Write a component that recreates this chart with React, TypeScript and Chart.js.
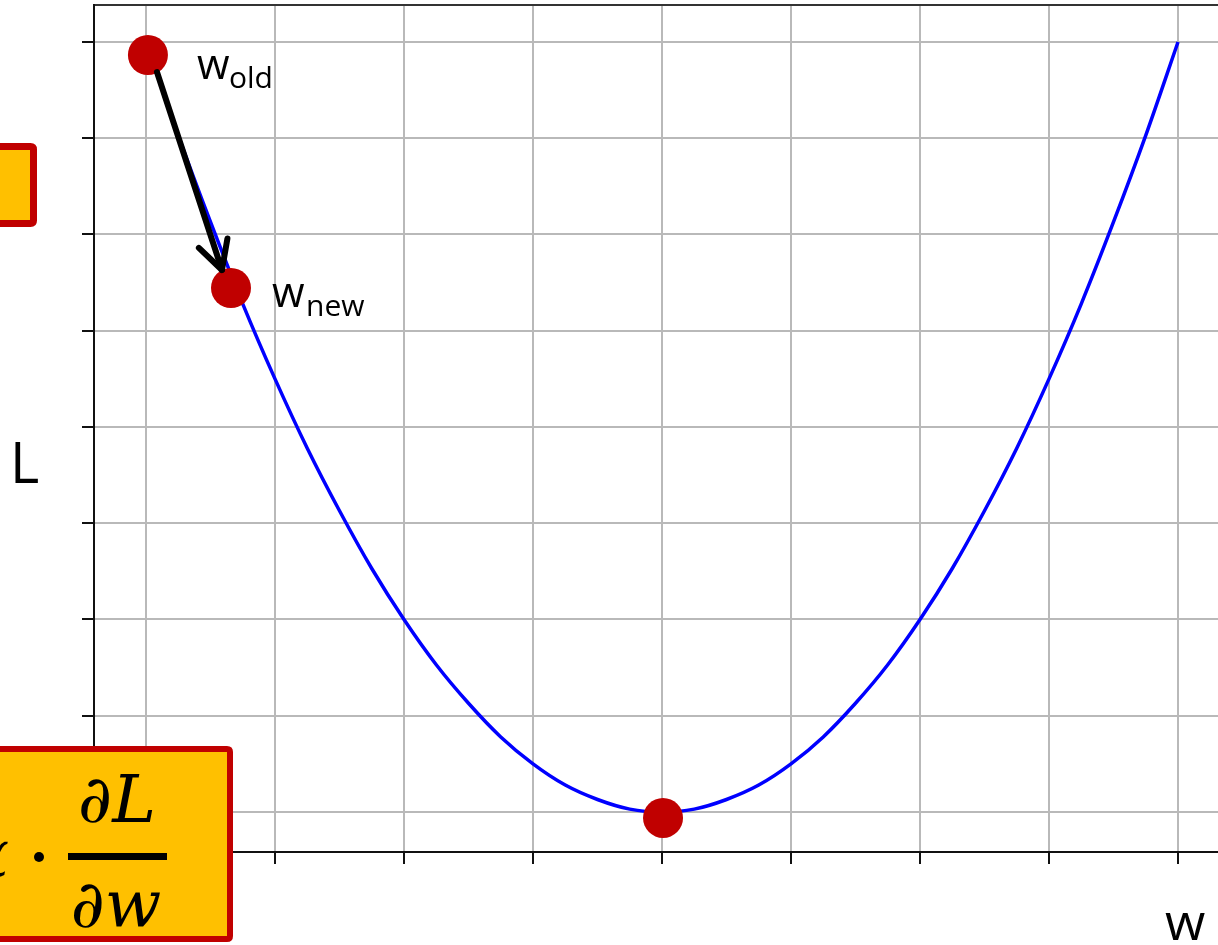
import React, { useEffect, useRef } from "react";
import { Chart, registerables } from "chart.js";

Chart.register(...registerables);

const curveW = [-4, -3.75, -3.5, -3.25, -3, -2.75, -2.5, -2.25, -2, -1.75, -1.5, -1.25, -1, -0.75, -0.5, -0.25, 0,
  0.25, 0.5, 0.75, 1, 1.25, 1.5, 1.75, 2, 2.25, 2.5, 2.75, 3, 3.25, 3.5, 3.75, 4];
const curveL = [8, 7.03, 6.13, 5.28, 4.5, 3.78, 3.13, 2.53, 2, 1.53, 1.13, 0.78, 0.5, 0.28, 0.13, 0.03, 0,
  0.03, 0.13, 0.28, 0.5, 0.78, 1.13, 1.53, 2, 2.53, 3.13, 3.78, 4.5, 5.28, 6.13, 7.03, 8];

// Red points: w_old, w_new, minimum
const pointNames = ["w_old", "w_new", "min"];
const pointW = [-3.985, -3.341, 0.008];
const pointL = [7.865, 5.444, -0.062];

// Arrow from w_old to w_new
const arrowW = [-3.915, -3.411];
const arrowL = [7.688, 5.631];

// Axis ranges and tick values
const xMin = -4.403;
const xMax = 4.31;
const yMin = -0.4156;
const yMax = 8.3844;
const xTicks = [-4, -3, -2, -1, 0, 1, 2, 3, 4];
const yTicks = [0, 1, 2, 3, 4, 5, 6, 7, 8];

const axisTitleX = "w";
const axisTitleY = "L";

const ORANGE = "#FFC000";
const DARKRED = "#C00000";

function roundRect(ctx: CanvasRenderingContext2D, x: number, y: number, w: number, h: number, r: number) {
  ctx.beginPath();
  ctx.moveTo(x + r, y);
  ctx.lineTo(x + w - r, y);
  ctx.quadraticCurveTo(x + w, y, x + w, y + r);
  ctx.lineTo(x + w, y + h - r);
  ctx.quadraticCurveTo(x + w, y + h, x + w - r, y + h);
  ctx.lineTo(x + r, y + h);
  ctx.quadraticCurveTo(x, y + h, x, y + h - r);
  ctx.lineTo(x, y + r);
  ctx.quadraticCurveTo(x, y, x + r, y);
  ctx.closePath();
}

const overlayPlugin = {
  id: "overlay",
  afterDatasetsDraw(chart: any) {
    const ctx: CanvasRenderingContext2D = chart.ctx;
    const xs = chart.scales.x;
    const ys = chart.scales.y;
    const x1 = xs.getPixelForValue(arrowW[0]);
    const y1 = ys.getPixelForValue(arrowL[0]);
    const x2 = xs.getPixelForValue(arrowW[1]);
    const y2 = ys.getPixelForValue(arrowL[1]);
    ctx.save();
    ctx.strokeStyle = "#000";
    ctx.lineWidth = 6;
    ctx.lineCap = "round";
    ctx.lineJoin = "round";
    ctx.beginPath();
    ctx.moveTo(x1, y1);
    ctx.lineTo(x2, y2);
    ctx.stroke();
    const ang = Math.atan2(y2 - y1, x2 - x1);
    const back = ang + Math.PI;
    const len = 32;
    const spread = (28 * Math.PI) / 180;
    ctx.beginPath();
    ctx.moveTo(x2 + len * Math.cos(back - spread), y2 + len * Math.sin(back - spread));
    ctx.lineTo(x2, y2);
    ctx.lineTo(x2 + len * Math.cos(back + spread), y2 + len * Math.sin(back + spread));
    ctx.stroke();
    ctx.restore();
  },
  afterDraw(chart: any) {
    const ctx: CanvasRenderingContext2D = chart.ctx;
    const xs = chart.scales.x;
    const ys = chart.scales.y;
    ctx.save();
    ctx.fillStyle = "#000";
    ctx.textAlign = "left";
    ctx.textBaseline = "alphabetic";

    // point labels
    const ox = xs.getPixelForValue(pointW[0]);
    const oy = ys.getPixelForValue(pointL[0]);
    ctx.font = "42px 'Open Sans'";
    ctx.fillText("w", ox + 49, oy + 24);
    ctx.font = "30px 'Open Sans'";
    ctx.fillText("old", ox + 81, oy + 33);

    const nx = xs.getPixelForValue(pointW[1]);
    const ny = ys.getPixelForValue(pointL[1]);
    ctx.font = "42px 'Open Sans'";
    ctx.fillText("w", nx + 41, ny + 19);
    ctx.font = "30px 'Open Sans'";
    ctx.fillText("new", nx + 75, ny + 28);

    // axis titles
    ctx.font = "56px 'Open Sans'";
    ctx.fillText(axisTitleY, 10, 483);
    ctx.font = "52px 'Open Sans'";
    ctx.fillText(axisTitleX, 1165, 940);

    // top-left (cropped) box
    ctx.fillStyle = ORANGE;
    ctx.strokeStyle = DARKRED;
    ctx.lineWidth = 7;
    roundRect(ctx, -20, 146.5, 53.5, 77, 3);
    ctx.fill();
    ctx.stroke();

    // bottom-left formula box
    ctx.lineWidth = 6;
    roundRect(ctx, -20, 749, 250, 190, 3);
    ctx.fill();
    ctx.stroke();

    ctx.fillStyle = "#000";
    ctx.font = "italic 66px 'DejaVu Serif'";
    ctx.textAlign = "right";
    ctx.fillText("α", 9, 876);
    ctx.beginPath();
    ctx.arc(39, 857, 5, 0, Math.PI * 2);
    ctx.fill();
    ctx.textAlign = "center";
    ctx.fillText("∂L", 117, 822);
    ctx.fillText("∂w", 116, 927);
    ctx.fillRect(68, 853, 99, 7);
    ctx.restore();
  },
};

export default function App() {
  const canvasRef = useRef<HTMLCanvasElement | null>(null);

  useEffect(() => {
    const canvas = canvasRef.current;
    if (!canvas) return;
    const curve = curveW.map((w, i) => ({ x: w, y: curveL[i] }));
    const pts = pointW.map((w, i) => ({ x: w, y: pointL[i] }));
    const chart = new Chart(canvas, {
      type: "line",
      data: {
        datasets: [
          {
            label: "L(w)",
            data: curve,
            borderColor: "#0000FF",
            borderWidth: 3.5,
            pointRadius: 0,
            fill: false,
            cubicInterpolationMode: "monotone",
            order: 2,
          } as any,
          {
            label: "points",
            type: "scatter",
            data: pts,
            backgroundColor: DARKRED,
            borderColor: DARKRED,
            borderWidth: 0,
            pointRadius: 20,
            showLine: false,
            order: 1,
          } as any,
        ],
      },
      options: {
        animation: false,
        responsive: false,
        devicePixelRatio: 1,
        layout: { autoPadding: false, padding: { left: 82, top: 5, right: 0, bottom: 81 } },
        plugins: {
          legend: { display: false },
          tooltip: { enabled: false },
          title: { display: false },
        },
        scales: {
          x: {
            type: "linear",
            position: "bottom",
            min: xMin,
            max: xMax,
            afterBuildTicks: (s: any) => {
              s.ticks = xTicks.map((v) => ({ value: v }));
            },
            ticks: { display: false },
            grid: {
              color: "#b9b9b9",
              lineWidth: 2,
              drawTicks: true,
              tickLength: 12,
              tickColor: "#111",
              tickWidth: 2,
            },
            border: { display: true, color: "#111", width: 2 },
          },
          x2: {
            type: "linear",
            position: "top",
            min: xMin,
            max: xMax,
            ticks: { display: false },
            grid: { display: false, drawTicks: false },
            border: { display: true, color: "#333", width: 2 },
          },
          y: {
            type: "linear",
            position: "left",
            min: yMin,
            max: yMax,
            afterBuildTicks: (s: any) => {
              s.ticks = yTicks.map((v) => ({ value: v }));
            },
            ticks: { display: false },
            grid: {
              color: "#b9b9b9",
              lineWidth: 2,
              drawTicks: true,
              tickLength: 12,
              tickColor: "#111",
              tickWidth: 2,
            },
            border: { display: true, color: "#111", width: 2 },
          },
        },
      } as any,
      plugins: [overlayPlugin],
    });
    return () => chart.destroy();
  }, []);

  return (
    <canvas
      ref={canvasRef}
      width={1218}
      height={945}
      style={{ position: "fixed", left: 0, top: 0, width: 1218, height: 945 }}
    />
  );
}
